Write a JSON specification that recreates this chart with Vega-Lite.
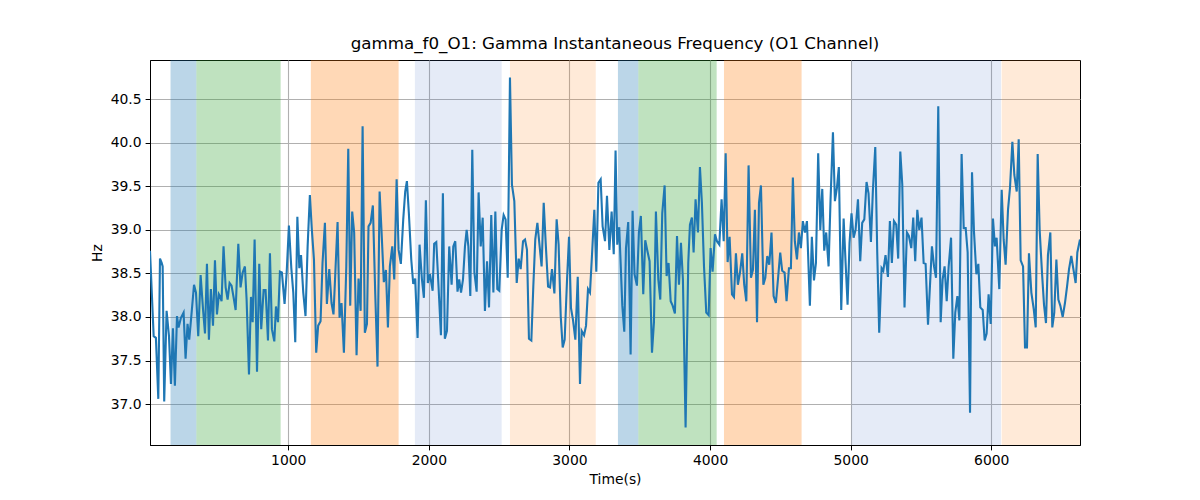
{
  "$schema": "https://vega.github.io/schema/vega-lite/v6.json",
  "width": 930,
  "height": 385,
  "autosize": {"type": "none"},
  "padding": {"left": 150, "top": 60, "right": 120, "bottom": 55},
  "title": {
    "text": "gamma_f0_O1: Gamma Instantaneous Frequency (O1 Channel)",
    "font": "DejaVu Sans", "fontSize": 16.7, "fontWeight": "normal", "color": "black", "offset": 7
  },
  "config": {
    "view": {"stroke": "black", "strokeWidth": 1},
    "axis": {
      "domainColor": "black", "tickColor": "black", "labelColor": "black", "titleColor": "black",
      "labelFont": "DejaVu Sans", "titleFont": "DejaVu Sans", "labelFontSize": 13.9, "titleFontSize": 13.9,
      "titleFontWeight": "normal", "tickSize": 4.9, "labelPadding": 4, "gridColor": "#b0b0b0", "gridWidth": 1.1
    }
  },
  "datasets": {
    "bands": [
      {"start": 163, "end": 347, "kind": "blue"},
      {"start": 347, "end": 946, "kind": "green"},
      {"start": 1161, "end": 1785, "kind": "orange"},
      {"start": 1901, "end": 2518, "kind": "light blue"},
      {"start": 2577, "end": 3187, "kind": "light orange"},
      {"start": 3345, "end": 3490, "kind": "blue"},
      {"start": 3490, "end": 4047, "kind": "green"},
      {"start": 4099, "end": 4651, "kind": "orange"},
      {"start": 5005, "end": 6069, "kind": "light blue"},
      {"start": 6074, "end": 6631, "kind": "light orange"}
    ],
    "freq": [
      {"t": 17, "hz": 38.76}, {"t": 43, "hz": 37.78}, {"t": 59, "hz": 37.76}, {"t": 76, "hz": 37.06},
      {"t": 88, "hz": 38.67}, {"t": 100, "hz": 38.62}, {"t": 107, "hz": 38.58}, {"t": 118, "hz": 37.03},
      {"t": 135, "hz": 38.07}, {"t": 152, "hz": 37.78}, {"t": 166, "hz": 37.23}, {"t": 180, "hz": 37.87},
      {"t": 194, "hz": 37.21}, {"t": 209, "hz": 38.01}, {"t": 220, "hz": 37.88}, {"t": 237, "hz": 37.99},
      {"t": 256, "hz": 38.05}, {"t": 270, "hz": 37.52}, {"t": 284, "hz": 37.92}, {"t": 296, "hz": 37.74},
      {"t": 313, "hz": 38.05}, {"t": 330, "hz": 38.37}, {"t": 344, "hz": 38.28}, {"t": 360, "hz": 37.78},
      {"t": 377, "hz": 38.48}, {"t": 394, "hz": 38.09}, {"t": 408, "hz": 37.81}, {"t": 422, "hz": 38.61},
      {"t": 436, "hz": 37.74}, {"t": 450, "hz": 38.32}, {"t": 465, "hz": 37.90}, {"t": 479, "hz": 38.65},
      {"t": 493, "hz": 38.03}, {"t": 507, "hz": 38.26}, {"t": 517, "hz": 38.23}, {"t": 526, "hz": 38.18},
      {"t": 540, "hz": 38.81}, {"t": 555, "hz": 38.34}, {"t": 569, "hz": 38.20}, {"t": 583, "hz": 38.39},
      {"t": 597, "hz": 38.36}, {"t": 612, "hz": 38.22}, {"t": 626, "hz": 38.08}, {"t": 645, "hz": 38.84},
      {"t": 661, "hz": 38.34}, {"t": 676, "hz": 38.51}, {"t": 692, "hz": 38.58}, {"t": 704, "hz": 38.20},
      {"t": 721, "hz": 37.34}, {"t": 735, "hz": 38.23}, {"t": 747, "hz": 37.94}, {"t": 761, "hz": 38.89},
      {"t": 778, "hz": 37.37}, {"t": 794, "hz": 38.61}, {"t": 808, "hz": 37.86}, {"t": 825, "hz": 38.31},
      {"t": 839, "hz": 38.31}, {"t": 856, "hz": 37.73}, {"t": 870, "hz": 38.73}, {"t": 884, "hz": 37.86},
      {"t": 901, "hz": 37.72}, {"t": 913, "hz": 38.12}, {"t": 927, "hz": 37.94}, {"t": 941, "hz": 38.52},
      {"t": 955, "hz": 38.51}, {"t": 974, "hz": 38.15}, {"t": 989, "hz": 38.51}, {"t": 1005, "hz": 39.05},
      {"t": 1022, "hz": 38.56}, {"t": 1036, "hz": 38.28}, {"t": 1050, "hz": 37.71}, {"t": 1065, "hz": 39.15},
      {"t": 1079, "hz": 38.56}, {"t": 1091, "hz": 38.71}, {"t": 1107, "hz": 38.28}, {"t": 1123, "hz": 38.01},
      {"t": 1138, "hz": 38.81}, {"t": 1154, "hz": 39.40}, {"t": 1168, "hz": 39.00}, {"t": 1183, "hz": 38.66},
      {"t": 1199, "hz": 37.59}, {"t": 1213, "hz": 37.90}, {"t": 1230, "hz": 37.95}, {"t": 1244, "hz": 38.62},
      {"t": 1261, "hz": 39.08}, {"t": 1275, "hz": 38.15}, {"t": 1292, "hz": 38.55}, {"t": 1308, "hz": 38.16},
      {"t": 1322, "hz": 38.03}, {"t": 1337, "hz": 38.58}, {"t": 1351, "hz": 39.09}, {"t": 1365, "hz": 37.99},
      {"t": 1379, "hz": 38.16}, {"t": 1396, "hz": 37.59}, {"t": 1413, "hz": 38.58}, {"t": 1427, "hz": 39.93},
      {"t": 1441, "hz": 38.13}, {"t": 1455, "hz": 39.21}, {"t": 1469, "hz": 38.97}, {"t": 1486, "hz": 37.56},
      {"t": 1500, "hz": 38.44}, {"t": 1515, "hz": 38.07}, {"t": 1529, "hz": 40.19}, {"t": 1545, "hz": 37.82},
      {"t": 1560, "hz": 37.92}, {"t": 1571, "hz": 39.04}, {"t": 1586, "hz": 39.08}, {"t": 1602, "hz": 39.28},
      {"t": 1619, "hz": 38.26}, {"t": 1635, "hz": 37.43}, {"t": 1650, "hz": 39.44}, {"t": 1664, "hz": 38.97},
      {"t": 1680, "hz": 38.40}, {"t": 1695, "hz": 38.54}, {"t": 1709, "hz": 37.88}, {"t": 1723, "hz": 38.58},
      {"t": 1740, "hz": 38.81}, {"t": 1754, "hz": 38.43}, {"t": 1771, "hz": 39.58}, {"t": 1785, "hz": 38.77},
      {"t": 1801, "hz": 38.61}, {"t": 1818, "hz": 39.12}, {"t": 1832, "hz": 39.44}, {"t": 1844, "hz": 39.56},
      {"t": 1858, "hz": 39.19}, {"t": 1875, "hz": 38.66}, {"t": 1889, "hz": 38.38}, {"t": 1903, "hz": 38.44},
      {"t": 1920, "hz": 37.76}, {"t": 1934, "hz": 38.83}, {"t": 1951, "hz": 38.43}, {"t": 1965, "hz": 38.22},
      {"t": 1979, "hz": 39.34}, {"t": 1993, "hz": 38.39}, {"t": 2008, "hz": 38.49}, {"t": 2027, "hz": 38.30},
      {"t": 2038, "hz": 38.84}, {"t": 2053, "hz": 38.86}, {"t": 2069, "hz": 38.35}, {"t": 2086, "hz": 37.79},
      {"t": 2100, "hz": 39.42}, {"t": 2114, "hz": 37.75}, {"t": 2129, "hz": 37.84}, {"t": 2145, "hz": 38.81},
      {"t": 2162, "hz": 38.37}, {"t": 2174, "hz": 38.81}, {"t": 2188, "hz": 38.87}, {"t": 2204, "hz": 38.29},
      {"t": 2216, "hz": 38.43}, {"t": 2229, "hz": 38.28}, {"t": 2243, "hz": 38.43}, {"t": 2257, "hz": 38.81},
      {"t": 2269, "hz": 39.00}, {"t": 2281, "hz": 38.81}, {"t": 2295, "hz": 38.24}, {"t": 2309, "hz": 39.92},
      {"t": 2324, "hz": 38.51}, {"t": 2340, "hz": 38.29}, {"t": 2354, "hz": 39.43}, {"t": 2369, "hz": 38.81},
      {"t": 2383, "hz": 39.14}, {"t": 2399, "hz": 38.07}, {"t": 2414, "hz": 38.64}, {"t": 2428, "hz": 38.11},
      {"t": 2444, "hz": 39.17}, {"t": 2459, "hz": 38.28}, {"t": 2473, "hz": 39.21}, {"t": 2487, "hz": 38.32},
      {"t": 2501, "hz": 38.30}, {"t": 2518, "hz": 39.00}, {"t": 2532, "hz": 39.17}, {"t": 2546, "hz": 39.12},
      {"t": 2561, "hz": 38.45}, {"t": 2577, "hz": 40.75}, {"t": 2591, "hz": 39.52}, {"t": 2608, "hz": 39.33},
      {"t": 2625, "hz": 38.39}, {"t": 2639, "hz": 38.67}, {"t": 2653, "hz": 38.55}, {"t": 2670, "hz": 38.87},
      {"t": 2684, "hz": 38.89}, {"t": 2698, "hz": 38.77}, {"t": 2712, "hz": 37.75}, {"t": 2729, "hz": 37.73},
      {"t": 2743, "hz": 38.35}, {"t": 2757, "hz": 38.89}, {"t": 2772, "hz": 39.08}, {"t": 2788, "hz": 38.81},
      {"t": 2802, "hz": 38.58}, {"t": 2817, "hz": 39.31}, {"t": 2831, "hz": 38.85}, {"t": 2848, "hz": 38.35},
      {"t": 2862, "hz": 38.34}, {"t": 2876, "hz": 38.55}, {"t": 2893, "hz": 38.27}, {"t": 2909, "hz": 39.12},
      {"t": 2923, "hz": 38.83}, {"t": 2938, "hz": 38.01}, {"t": 2952, "hz": 37.65}, {"t": 2966, "hz": 37.74},
      {"t": 2983, "hz": 38.43}, {"t": 2997, "hz": 38.92}, {"t": 3011, "hz": 38.10}, {"t": 3025, "hz": 37.97},
      {"t": 3042, "hz": 37.74}, {"t": 3059, "hz": 38.46}, {"t": 3075, "hz": 37.23}, {"t": 3087, "hz": 37.84},
      {"t": 3104, "hz": 37.79}, {"t": 3118, "hz": 37.90}, {"t": 3132, "hz": 38.32}, {"t": 3146, "hz": 38.28},
      {"t": 3160, "hz": 38.70}, {"t": 3177, "hz": 39.23}, {"t": 3191, "hz": 38.52}, {"t": 3206, "hz": 39.54},
      {"t": 3222, "hz": 39.58}, {"t": 3236, "hz": 39.04}, {"t": 3253, "hz": 38.87}, {"t": 3267, "hz": 39.39},
      {"t": 3284, "hz": 38.77}, {"t": 3300, "hz": 39.21}, {"t": 3315, "hz": 38.72}, {"t": 3328, "hz": 39.91},
      {"t": 3340, "hz": 38.83}, {"t": 3354, "hz": 39.03}, {"t": 3376, "hz": 38.13}, {"t": 3390, "hz": 37.83},
      {"t": 3402, "hz": 38.79}, {"t": 3418, "hz": 39.09}, {"t": 3435, "hz": 37.57}, {"t": 3449, "hz": 39.22},
      {"t": 3463, "hz": 38.49}, {"t": 3480, "hz": 38.36}, {"t": 3494, "hz": 38.97}, {"t": 3508, "hz": 39.16},
      {"t": 3525, "hz": 38.26}, {"t": 3539, "hz": 38.88}, {"t": 3554, "hz": 38.76}, {"t": 3570, "hz": 38.64},
      {"t": 3587, "hz": 37.59}, {"t": 3601, "hz": 37.94}, {"t": 3615, "hz": 39.21}, {"t": 3632, "hz": 38.43},
      {"t": 3646, "hz": 38.20}, {"t": 3660, "hz": 39.19}, {"t": 3677, "hz": 39.51}, {"t": 3691, "hz": 38.47},
      {"t": 3705, "hz": 38.62}, {"t": 3720, "hz": 38.18}, {"t": 3734, "hz": 38.13}, {"t": 3750, "hz": 38.04},
      {"t": 3765, "hz": 38.93}, {"t": 3779, "hz": 38.37}, {"t": 3793, "hz": 38.85}, {"t": 3807, "hz": 38.43},
      {"t": 3826, "hz": 36.73}, {"t": 3845, "hz": 38.62}, {"t": 3857, "hz": 39.06}, {"t": 3871, "hz": 39.14},
      {"t": 3883, "hz": 38.74}, {"t": 3897, "hz": 39.35}, {"t": 3914, "hz": 38.97}, {"t": 3928, "hz": 39.72},
      {"t": 3942, "hz": 39.31}, {"t": 3957, "hz": 38.58}, {"t": 3973, "hz": 38.05}, {"t": 3990, "hz": 38.02},
      {"t": 4004, "hz": 38.79}, {"t": 4018, "hz": 38.52}, {"t": 4035, "hz": 38.95}, {"t": 4049, "hz": 38.87},
      {"t": 4066, "hz": 38.83}, {"t": 4082, "hz": 39.35}, {"t": 4097, "hz": 38.87}, {"t": 4111, "hz": 39.88},
      {"t": 4125, "hz": 38.63}, {"t": 4139, "hz": 38.92}, {"t": 4156, "hz": 38.26}, {"t": 4170, "hz": 38.23},
      {"t": 4184, "hz": 38.73}, {"t": 4198, "hz": 38.37}, {"t": 4213, "hz": 38.51}, {"t": 4229, "hz": 38.73},
      {"t": 4243, "hz": 38.37}, {"t": 4258, "hz": 38.18}, {"t": 4274, "hz": 39.74}, {"t": 4291, "hz": 38.45},
      {"t": 4305, "hz": 38.54}, {"t": 4319, "hz": 39.23}, {"t": 4334, "hz": 37.94}, {"t": 4348, "hz": 39.31},
      {"t": 4362, "hz": 39.51}, {"t": 4379, "hz": 38.37}, {"t": 4393, "hz": 38.45}, {"t": 4407, "hz": 38.70},
      {"t": 4421, "hz": 38.60}, {"t": 4426, "hz": 38.71}, {"t": 4437, "hz": 38.97}, {"t": 4452, "hz": 38.24},
      {"t": 4468, "hz": 38.16}, {"t": 4485, "hz": 38.47}, {"t": 4499, "hz": 38.74}, {"t": 4513, "hz": 38.53},
      {"t": 4530, "hz": 38.51}, {"t": 4544, "hz": 38.18}, {"t": 4561, "hz": 38.56}, {"t": 4575, "hz": 38.56},
      {"t": 4589, "hz": 39.60}, {"t": 4603, "hz": 38.87}, {"t": 4618, "hz": 38.66}, {"t": 4632, "hz": 38.97},
      {"t": 4646, "hz": 38.79}, {"t": 4660, "hz": 39.10}, {"t": 4675, "hz": 38.97}, {"t": 4689, "hz": 39.10},
      {"t": 4710, "hz": 38.13}, {"t": 4724, "hz": 38.92}, {"t": 4739, "hz": 38.42}, {"t": 4753, "hz": 38.62},
      {"t": 4769, "hz": 39.88}, {"t": 4784, "hz": 39.00}, {"t": 4798, "hz": 39.47}, {"t": 4812, "hz": 38.76},
      {"t": 4826, "hz": 38.97}, {"t": 4843, "hz": 38.58}, {"t": 4857, "hz": 39.35}, {"t": 4874, "hz": 40.12},
      {"t": 4888, "hz": 39.33}, {"t": 4902, "hz": 39.48}, {"t": 4916, "hz": 39.72}, {"t": 4933, "hz": 38.08},
      {"t": 4950, "hz": 39.13}, {"t": 4964, "hz": 38.62}, {"t": 4978, "hz": 38.14}, {"t": 4992, "hz": 38.85},
      {"t": 5006, "hz": 39.19}, {"t": 5021, "hz": 38.91}, {"t": 5035, "hz": 39.00}, {"t": 5052, "hz": 39.35},
      {"t": 5068, "hz": 38.64}, {"t": 5082, "hz": 39.08}, {"t": 5097, "hz": 39.12}, {"t": 5113, "hz": 39.55},
      {"t": 5127, "hz": 39.42}, {"t": 5144, "hz": 38.86}, {"t": 5158, "hz": 39.45}, {"t": 5175, "hz": 39.95},
      {"t": 5189, "hz": 38.74}, {"t": 5203, "hz": 37.82}, {"t": 5220, "hz": 38.56}, {"t": 5232, "hz": 38.53},
      {"t": 5248, "hz": 38.71}, {"t": 5265, "hz": 38.46}, {"t": 5279, "hz": 39.10}, {"t": 5293, "hz": 38.62},
      {"t": 5308, "hz": 39.10}, {"t": 5324, "hz": 39.06}, {"t": 5338, "hz": 38.67}, {"t": 5353, "hz": 39.90},
      {"t": 5367, "hz": 39.52}, {"t": 5383, "hz": 38.11}, {"t": 5400, "hz": 38.97}, {"t": 5414, "hz": 38.93},
      {"t": 5431, "hz": 38.79}, {"t": 5445, "hz": 39.14}, {"t": 5459, "hz": 38.64}, {"t": 5474, "hz": 39.23},
      {"t": 5488, "hz": 39.00}, {"t": 5504, "hz": 39.14}, {"t": 5519, "hz": 38.62}, {"t": 5533, "hz": 38.61},
      {"t": 5550, "hz": 37.91}, {"t": 5564, "hz": 38.36}, {"t": 5578, "hz": 38.81}, {"t": 5593, "hz": 38.58},
      {"t": 5607, "hz": 38.45}, {"t": 5623, "hz": 40.42}, {"t": 5640, "hz": 37.94}, {"t": 5654, "hz": 38.43},
      {"t": 5668, "hz": 38.58}, {"t": 5683, "hz": 38.18}, {"t": 5697, "hz": 38.58}, {"t": 5714, "hz": 38.91},
      {"t": 5730, "hz": 37.52}, {"t": 5744, "hz": 38.05}, {"t": 5759, "hz": 38.24}, {"t": 5773, "hz": 37.96},
      {"t": 5789, "hz": 39.87}, {"t": 5804, "hz": 39.02}, {"t": 5818, "hz": 39.02}, {"t": 5832, "hz": 38.74},
      {"t": 5849, "hz": 36.90}, {"t": 5863, "hz": 39.66}, {"t": 5877, "hz": 38.98}, {"t": 5894, "hz": 38.49},
      {"t": 5908, "hz": 38.61}, {"t": 5922, "hz": 38.11}, {"t": 5939, "hz": 38.08}, {"t": 5953, "hz": 37.73},
      {"t": 5967, "hz": 37.81}, {"t": 5981, "hz": 38.26}, {"t": 5996, "hz": 37.92}, {"t": 6012, "hz": 39.13},
      {"t": 6026, "hz": 38.81}, {"t": 6038, "hz": 38.91}, {"t": 6057, "hz": 38.32}, {"t": 6074, "hz": 39.46},
      {"t": 6088, "hz": 38.89}, {"t": 6102, "hz": 38.60}, {"t": 6119, "hz": 39.23}, {"t": 6133, "hz": 39.48},
      {"t": 6150, "hz": 40.01}, {"t": 6164, "hz": 39.63}, {"t": 6181, "hz": 39.44}, {"t": 6195, "hz": 40.04},
      {"t": 6209, "hz": 38.65}, {"t": 6226, "hz": 38.58}, {"t": 6240, "hz": 37.65}, {"t": 6254, "hz": 37.65},
      {"t": 6268, "hz": 38.73}, {"t": 6285, "hz": 38.28}, {"t": 6302, "hz": 38.09}, {"t": 6316, "hz": 37.88},
      {"t": 6330, "hz": 39.87}, {"t": 6344, "hz": 39.00}, {"t": 6361, "hz": 38.50}, {"t": 6375, "hz": 38.14},
      {"t": 6389, "hz": 37.93}, {"t": 6403, "hz": 38.71}, {"t": 6420, "hz": 38.97}, {"t": 6434, "hz": 37.88},
      {"t": 6448, "hz": 38.05}, {"t": 6463, "hz": 38.66}, {"t": 6477, "hz": 38.20}, {"t": 6491, "hz": 38.13},
      {"t": 6508, "hz": 38.00}, {"t": 6524, "hz": 38.16}, {"t": 6539, "hz": 38.35}, {"t": 6553, "hz": 38.55},
      {"t": 6569, "hz": 38.70}, {"t": 6584, "hz": 38.55}, {"t": 6600, "hz": 38.39}, {"t": 6612, "hz": 38.74},
      {"t": 6631, "hz": 38.89}
    ]
  },
  "layer": [
    {
      "data": {"name": "bands"},
      "mark": {"type": "rect", "opacity": 1},
      "encoding": {
        "x": {
          "field": "start", "type": "quantitative",
          "scale": {"domain": [17, 6631], "nice": false, "zero": false},
          "axis": {"title": "Time(s)", "values": [1000, 2000, 3000, 4000, 5000, 6000], "format": "d", "titlePadding": 5}
        },
        "x2": {"field": "end"},
        "color": {
          "field": "kind", "type": "nominal", "legend": null,
          "scale": {"domain": ["blue", "green", "orange", "light blue", "light orange"],
                    "range": ["rgba(31,119,180,0.3)", "rgba(44,160,44,0.3)", "rgba(255,127,14,0.3)", "rgba(70,110,200,0.14)", "rgba(255,127,14,0.16)"]}
        }
      }
    },
    {
      "data": {"name": "freq"},
      "mark": {"type": "line", "color": "#1f77b4", "strokeWidth": 2.1, "clip": true},
      "encoding": {
        "x": {
          "field": "t", "type": "quantitative",
          "axis": {"title": "Time(s)", "values": [1000, 2000, 3000, 4000, 5000, 6000], "format": "d", "titlePadding": 5}
        },
        "y": {
          "field": "hz", "type": "quantitative",
          "scale": {"domain": [36.53, 40.95], "nice": false, "zero": false},
          "axis": {"title": "Hz", "values": [37, 37.5, 38, 38.5, 39, 39.5, 40, 40.5], "format": ".1f", "titlePadding": 6}
        }
      }
    }
  ]
}
